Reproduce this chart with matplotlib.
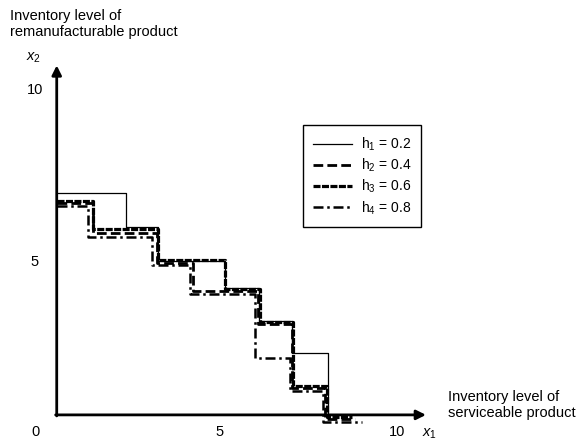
import matplotlib
matplotlib.use("Agg")
import matplotlib.pyplot as plt

plt.rcParams['font.family'] = ['Liberation Sans', 'DejaVu Sans']
plt.rcParams['mathtext.fontset'] = 'custom'
plt.rcParams['mathtext.rm'] = 'Liberation Sans'
plt.rcParams['mathtext.it'] = 'Liberation Sans:italic'

# step curves: x where each level ends, level values
H1_X = [0.6, 2.5, 3.4, 5.25, 6.2, 7.1, 8.1]
H1_Y = [7.0, 6.0, 5.0, 4.2, 3.25, 2.3, 0.5]

H2_X = [0.6, 1.6, 3.37, 4.36, 6.16, 7.1, 8.01, 8.84]
H2_Y = [6.7, 5.82, 4.94, 4.12, 3.16, 1.29, 0.38, 0.38]

H3_X = [0.6, 1.6, 3.4, 5.25, 6.22, 7.13, 8.07, 8.76]
H3_Y = [6.75, 5.94, 5.03, 4.18, 3.22, 1.35, 0.44, 0.44]

H4_X = [0.6, 1.46, 3.23, 4.28, 6.08, 7.04, 7.96, 9.03]
H4_Y = [6.61, 5.7, 4.88, 4.04, 2.16, 1.2, 0.29, 0.29]

LABELS = [r'h$_{1}$ = 0.2', r'h$_{2}$ = 0.4', r'h$_{3}$ = 0.6', r'h$_{4}$ = 0.8']
TICKS = [0, 5, 10]

fig = plt.figure(figsize=(5.76, 4.43), dpi=100)
ax = fig.add_axes([0, 0, 1, 1])
ax.set_xlim(-0.967, 14.945)
ax.set_ylim(-0.322, 12.632)
ax.axis('off')

# curves
ax.step(H1_X, H1_Y, where='post', color='black', lw=0.9, label=LABELS[0])
ax.step(H2_X, H2_Y, where='post', color='black', lw=2.0, dashes=(3.5, 1.5), label=LABELS[1])
ax.step(H3_X, H3_Y, where='post', color='black', lw=2.3, dashes=(2.2, 0.45), label=LABELS[2])
ax.step(H4_X, H4_Y, where='post', color='black', lw=1.8, dashes=(4, 1.5, 1, 1.5), label=LABELS[3])

# axes as arrows
x0, y0 = 0.6, 0.5
ax.annotate('', xy=(10.8, y0), xytext=(x0 - 0.03, y0),
            arrowprops=dict(arrowstyle='-|>', lw=2, color='black', mutation_scale=14,
                            shrinkA=0, shrinkB=0))
ax.annotate('', xy=(x0, 10.72), xytext=(x0, y0 - 0.03),
            arrowprops=dict(arrowstyle='-|>', lw=2, color='black', mutation_scale=14,
                            shrinkA=0, shrinkB=0))

# tick labels
for t, xp in zip(TICKS, [0, 5.1, 10]):
    ax.text(xp, 0, str(t), ha='center', va='center', fontsize=10.5)
for t, yp in zip(TICKS, [0, 4.97, 10]):
    if t == 0:
        continue
    ax.text(0, yp, str(t), ha='center', va='center', fontsize=10.5)

ax.text(10.9, -0.05, r'$x_{1}$', ha='center', va='center', fontsize=10.5)
ax.text(-0.05, 10.95, r'$x_{2}$', ha='center', va='center', fontsize=10.5)

ax.text(-0.7, 11.92, 'Inventory level of\nremanufacturable product', ha='left', va='center',
        fontsize=10.5, linespacing=1.17)
ax.text(11.4, 0.78, 'Inventory level of\nserviceable product', ha='left', va='center',
        fontsize=10.5, linespacing=1.17)

leg = ax.legend(loc='upper left', bbox_to_anchor=(303 / 576, 1 - 125 / 443), borderaxespad=0,
                fancybox=False, edgecolor='black', framealpha=1, fontsize=10,
                handlelength=2.8, handletextpad=0.6, labelspacing=0.28, borderpad=0.75)
leg.get_frame().set_linewidth(1.0)

fig.savefig('out.png', dpi=100)
